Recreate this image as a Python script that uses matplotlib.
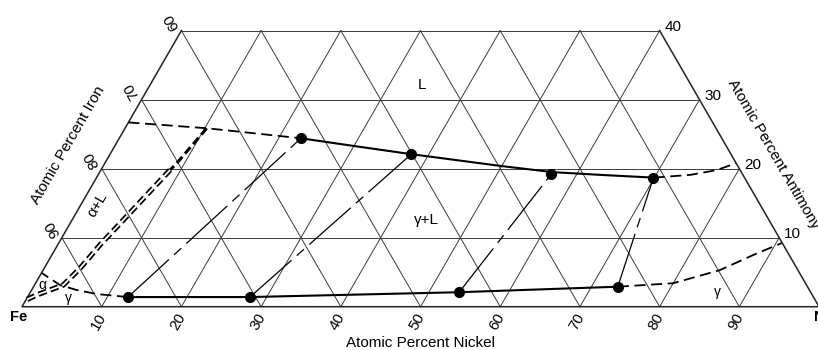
import numpy as np
import matplotlib.pyplot as plt

plt.rcParams['font.family'] = ['Liberation Sans', 'DejaVu Sans']
plt.rcParams['lines.scale_dashes'] = False

# compositions are (at.% Ni, at.% Sb), Fe is the balance
sb_top = 40
grid_vals = [10, 20, 30, 40, 50, 60, 70, 80, 90]
sb_levels = [10, 20, 30, 40]

ni_ticks = [10, 20, 30, 40, 50, 60, 70, 80, 90]
fe_ticks = [60, 70, 80, 90]
sb_ticks = [10, 20, 30, 40]

# liquidus
liq_ni = [22.8, 29.9, 37.8, 49.8, 56.8, 63.0, 69.9]
liq_sb = [24.4, 23.3, 22.1, 20.4, 19.5, 19.1, 18.7]
liq_left_ni = [0, 10.3, 22.8]
liq_left_sb = [26.7, 25.85, 24.4]
liq_right_ni = [69.9, 74.3, 77.3, 79.2]
liq_right_sb = [18.7, 19.1, 19.8, 20.8]

# solidus
sol_ni = [12.6, 27.9, 53.8, 73.3]
sol_sb = [1.4, 1.4, 2.1, 2.9]
sol_right_ni = [73.3, 80.0, 84.9, 88.3, 90.7]
sol_right_sb = [2.9, 3.4, 5.3, 7.7, 9.2]
gam_left_ni = [12.6, 8.45, 5.65, 3.2, 0]
gam_left_sb = [1.4, 1.84, 2.42, 3.14, 4.9]

# alpha+L boundary
al_ni = [10.25, 9.02, 8.67, 6.43, 5.3, 4.91, 4.5, 4.06, 3.61, 2.3, 0.99, 0]
al_sb = [25.85, 20.78, 19.8, 12.56, 8.94, 7.24, 5.56, 4.35, 3.14, 2.42, 1.7, 0.97]
al_split = 2

# tie line ends
tie_liq_ni = [22.8, 37.8, 56.8, 69.9]
tie_liq_sb = [24.4, 22.1, 19.2, 18.6]
tie_sol_ni = [12.6, 27.9, 53.8, 73.3]
tie_sol_sb = [1.4, 1.4, 2.1, 2.9]


def tern(ni, sb):
    ni = np.asarray(ni, dtype=float)
    sb = np.asarray(sb, dtype=float)
    return ni + sb / 2, sb * np.sqrt(3) / 2


fig = plt.figure(figsize=(8.18, 3.5), dpi=100)
ax = fig.add_axes([0, 0, 1, 1])
ax.set_xlim(-2.76, 99.87)
ax.set_ylim(-5.43, 38.48)
ax.axis('off')

gc = '#3a3a3a'
# grid
for s in sb_levels:
    x, y = tern([0, 100 - s], [s, s])
    ax.plot(x, y, color=gc, lw=0.7)
for v in grid_vals:
    x, y = tern([v, v], [0, min(sb_top, 100 - v)])
    ax.plot(x, y, color=gc, lw=0.7)
    top = min(sb_top, v)
    x, y = tern([v, v - top], [0, top])
    ax.plot(x, y, color=gc, lw=0.7)
# edges
x, y = tern([0, 0, 100, 100 - sb_top], [sb_top, 0, 0, sb_top])
ax.plot(x, y, color='#222222', lw=1.1)

dash = (0, (8, 4))
x, y = tern(liq_ni, liq_sb)
ax.plot(x, y, color='black', lw=1.5)
x, y = tern(liq_left_ni, liq_left_sb)
ax.plot(x, y, color='black', lw=1.3, linestyle=dash)
x, y = tern(liq_right_ni, liq_right_sb)
ax.plot(x, y, color='black', lw=1.3, linestyle=dash)

x, y = tern(sol_ni, sol_sb)
ax.plot(x, y, color='black', lw=1.5)
x, y = tern(sol_right_ni, sol_right_sb)
ax.plot(x, y, color='black', lw=1.3, linestyle=dash)
x, y = tern(gam_left_ni, gam_left_sb)
ax.plot(x, y, color='black', lw=1.3, linestyle=dash)

# alpha+L boundary: single then double line
x, y = tern(al_ni[:al_split + 1], al_sb[:al_split + 1])
ax.plot(x, y, color='black', lw=2.2, linestyle=(0, (6, 3)))
x, y = tern(al_ni[al_split:], al_sb[al_split:])
ax.plot(x, y, color='black', lw=3.8, linestyle=(0, (6, 3)))
ax.plot(x, y, color='white', lw=1.3, linestyle=(0, (6, 3)))

# tie lines
for i in range(len(tie_liq_ni)):
    x, y = tern([tie_sol_ni[i], tie_liq_ni[i]], [tie_sol_sb[i], tie_liq_sb[i]])
    ax.plot(x, y, color='black', lw=0.9, linestyle=(0, (40, 5, 7, 5)))

x, y = tern(tie_liq_ni + tie_sol_ni, tie_liq_sb + tie_sol_sb)
ax.plot(x, y, 'o', color='black', markersize=7, zorder=5)

# tick labels
fs = 11
for v in ni_ticks:
    x, y = tern(v, 0)
    ax.text(x - 0.4, y - 1.9, str(v), rotation=60, ha='center', va='center', fontsize=fs)
for v in fe_ticks:
    x, y = tern(0, 100 - v)
    ax.text(x - 1.2, y + 1.15, str(v), rotation=120, ha='center', va='center', fontsize=fs)
for v in sb_ticks:
    x, y = tern(100 - v, v)
    ax.text(x + 0.6, y + 0.45, str(v), ha='left', va='center', fontsize=fs)

ax.text(50.06, -4.55, 'Atomic Percent Nickel', ha='center', va='center', fontsize=fs)
ax.text(5.77, 20.29, 'Atomic Percent Iron', rotation=60, ha='center', va='center', fontsize=fs)
ax.text(94.35, 19.16, 'Atomic Percent Antimony', rotation=-60, ha='center', va='center', fontsize=fs)
ax.text(-0.44, -1.29, 'Fe', ha='center', va='center', fontsize=10.5, fontweight='bold')
ax.text(100.3, -1.29, 'Ni', ha='center', va='center', fontsize=10.5, fontweight='bold')

ax.text(50.2, 27.8, 'L', ha='center', va='center', fontsize=fs)
ax.text(50.8, 10.88, 'γ+L', ha='center', va='center', fontsize=fs)
ax.text(9.41, 12.76, 'α+L', rotation=60, ha='center', va='center', fontsize=fs)
ax.text(2.51, 2.72, 'α', ha='center', va='center', fontsize=10)
ax.text(5.77, 1.09, 'γ', ha='center', va='center', fontsize=10)
ax.text(87.3, 1.84, 'γ', ha='center', va='center', fontsize=10)

fig.savefig('out.png', dpi=100)
